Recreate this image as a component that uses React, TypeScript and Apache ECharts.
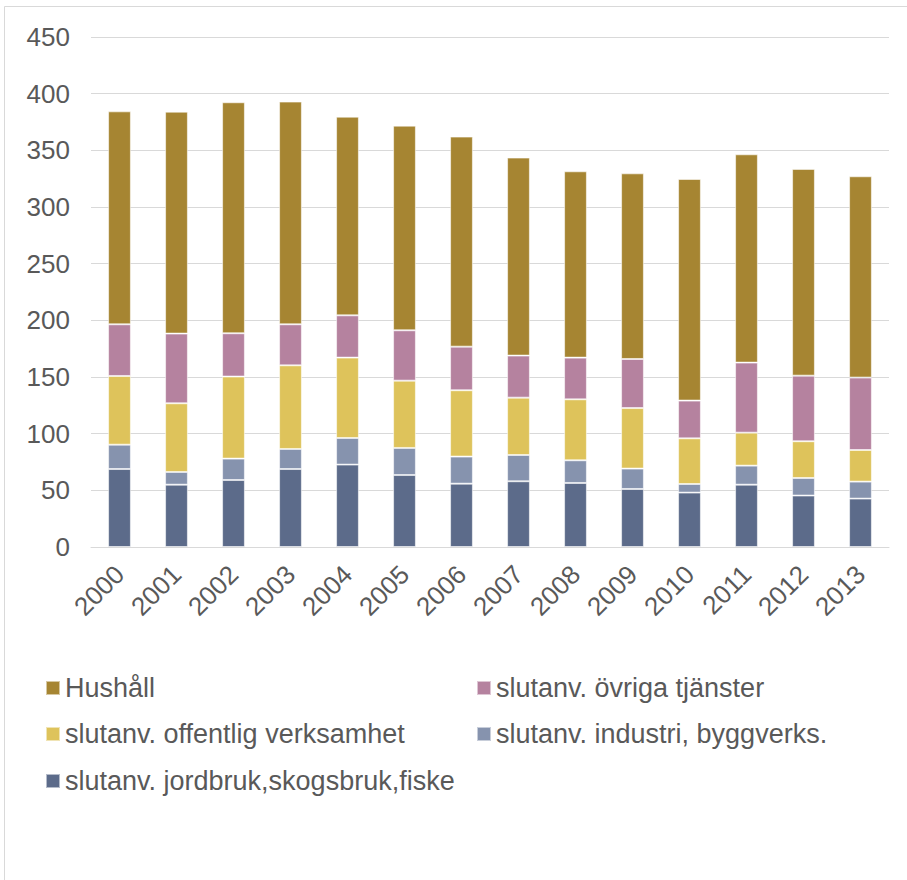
import React, { useEffect, useRef } from "react";
import * as echarts from "echarts";

const years = ["2000", "2001", "2002", "2003", "2004", "2005", "2006", "2007", "2008", "2009", "2010", "2011", "2012", "2013"];

const jordbruk = [68.8, 55.0, 59.1, 68.8, 72.7, 63.5, 55.9, 58.0, 56.5, 51.2, 48.0, 55.0, 45.4, 42.7];
const industri = [21.5, 11.2, 18.9, 17.7, 23.5, 23.9, 23.9, 23.2, 20.0, 18.0, 7.6, 16.8, 15.5, 15.0];
const offentlig = [60.6, 60.6, 72.4, 73.8, 70.9, 59.4, 58.5, 50.6, 53.8, 53.4, 40.3, 29.1, 32.4, 27.9];
const ovriga = [45.6, 61.5, 38.2, 36.2, 37.3, 44.4, 38.5, 37.1, 36.8, 43.3, 33.3, 61.8, 57.9, 63.9];
const hushall = [187.9, 195.8, 203.8, 196.5, 175.3, 180.6, 185.3, 174.7, 164.4, 163.8, 195.5, 183.8, 182.4, 177.6];

const seriesNames = [
  "slutanv. jordbruk,skogsbruk,fiske",
  "slutanv. industri, byggverks.",
  "slutanv. offentlig verksamhet",
  "slutanv. övriga tjänster",
  "Hushåll",
];
const seriesData = [jordbruk, industri, offentlig, ovriga, hushall];
const colors = ["#5C6B8A", "#8693AE", "#DEC35B", "#B5829F", "#A68532"];

const FONT = "'Liberation Sans', Arial, sans-serif";
const TEXT = "#595959";

export default function App() {
  const ref = useRef<HTMLDivElement>(null);
  useEffect(() => {
    if (!ref.current) return;
    const chart = echarts.init(ref.current, null, { renderer: "svg" });
    const legendItem = (name: string, left: number, top: number) => ({
      show: true,
      data: [name],
      left,
      top,
      orient: "horizontal",
      icon: "rect",
      itemWidth: 14,
      itemHeight: 14,
      selectedMode: false,
      padding: 0,
      textStyle: { fontSize: 27, color: TEXT, fontFamily: FONT, lineHeight: 27 },
    });
    chart.setOption({
      animation: false,
      color: colors,
      textStyle: { fontFamily: FONT },
      grid: { left: 91, right: 18, top: 37, bottom: 333, containLabel: false },
      graphic: [
        {
          type: "rect",
          shape: { x: 4.5, y: 6.5, width: 940, height: 920 },
          style: { fill: "none", stroke: "#D9D9D9", lineWidth: 1 },
          silent: true,
        },
      ],
      legend: [
        legendItem("Hushåll", 45, 674.5),
        legendItem("slutanv. övriga tjänster", 476, 674.5),
        legendItem("slutanv. offentlig verksamhet", 45, 720.5),
        legendItem("slutanv. industri, byggverks.", 476, 720.5),
        legendItem("slutanv. jordbruk,skogsbruk,fiske", 45, 767.5),
      ],
      xAxis: {
        type: "category",
        data: years,
        axisLine: { show: true, lineStyle: { color: "#D9D9D9", width: 1 } },
        axisTick: { show: false },
        axisLabel: {
          rotate: 45,
          fontSize: 26,
          color: TEXT,
          fontFamily: FONT,
          margin: 23,
          padding: [43, 0, 0, 0],
          interval: 0,
        },
      },
      yAxis: {
        type: "value",
        min: 0,
        max: 450,
        interval: 50,
        axisLine: { show: false },
        axisTick: { show: false },
        axisLabel: { fontSize: 26, color: TEXT, fontFamily: FONT, margin: 21 },
        splitLine: { lineStyle: { color: "#D9D9D9", width: 1 } },
      },
      series: seriesNames.map((name, i) => ({
        name,
        type: "bar",
        stack: "total",
        data: seriesData[i],
        barWidth: "40%",
        itemStyle: { color: colors[i], borderColor: "rgba(255,255,255,0.55)", borderWidth: 1 },
      })),
    });
    return () => chart.dispose();
  }, []);
  return (
    <div
      ref={ref}
      style={{ position: "fixed", left: 0, top: 0, width: 907, height: 880, background: "#fff" }}
    />
  );
}
